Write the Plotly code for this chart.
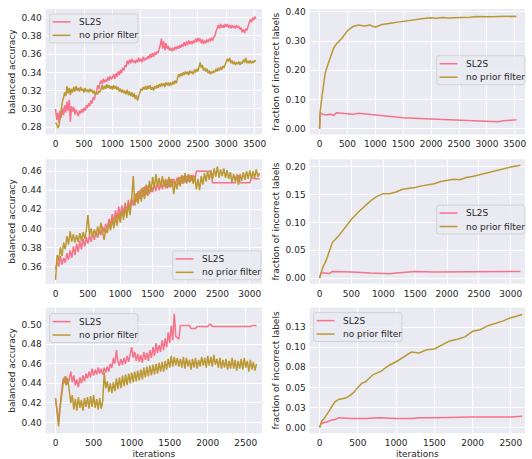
import plotly.graph_objects as go

PINK = "#f77189"
GOLD = "#bb9832"

# ---------- Row 1 ----------
tl_step = 20
tl_sl2s = [0.300, 0.288, 0.296, 0.285, 0.298, 0.290, 0.301, 0.293, 0.304, 0.296,
           0.308, 0.298, 0.310, 0.286, 0.303, 0.297, 0.302, 0.294, 0.299, 0.296,
           0.292, 0.298, 0.295, 0.300, 0.296, 0.301, 0.298, 0.304, 0.301, 0.306,
           0.303, 0.309, 0.306, 0.313, 0.310, 0.316, 0.319, 0.326, 0.322, 0.329,
           0.331, 0.327, 0.333, 0.329, 0.332, 0.330, 0.335, 0.331, 0.336, 0.333,
           0.334, 0.338, 0.333, 0.339, 0.335, 0.341, 0.337, 0.343, 0.339, 0.345,
           0.342, 0.348, 0.346, 0.353, 0.349, 0.354, 0.350, 0.355, 0.351, 0.353,
           0.350, 0.354, 0.351, 0.356, 0.352, 0.355, 0.351, 0.357, 0.353, 0.356,
           0.354, 0.358, 0.355, 0.360, 0.356, 0.361, 0.357, 0.362, 0.359, 0.363,
           0.361, 0.366, 0.370, 0.377, 0.366, 0.374, 0.364, 0.372, 0.366, 0.369,
           0.364, 0.367, 0.363, 0.367, 0.364, 0.368, 0.365, 0.369, 0.366, 0.370,
           0.367, 0.371, 0.368, 0.373, 0.369, 0.374, 0.370, 0.375, 0.371, 0.374,
           0.371, 0.375, 0.372, 0.377, 0.373, 0.378, 0.374, 0.377, 0.372, 0.376,
           0.371, 0.375, 0.372, 0.376, 0.373, 0.377, 0.374, 0.378, 0.375, 0.379,
           0.380, 0.385, 0.388, 0.392, 0.388, 0.393, 0.389, 0.392, 0.389, 0.393,
           0.390, 0.393, 0.389, 0.392, 0.388, 0.392, 0.389, 0.391, 0.388, 0.392,
           0.389, 0.391, 0.387, 0.389, 0.384, 0.387, 0.383, 0.388, 0.386, 0.392,
           0.394, 0.398, 0.395, 0.400, 0.397, 0.401, 0.399]
tl_noprior = [0.285, 0.283, 0.279, 0.282, 0.290, 0.300, 0.308, 0.312, 0.318, 0.314,
              0.325, 0.317, 0.323, 0.315, 0.322, 0.318, 0.324, 0.319, 0.325, 0.320,
              0.323, 0.319, 0.324, 0.320, 0.322, 0.318, 0.323, 0.319, 0.321, 0.318,
              0.322, 0.319, 0.321, 0.317, 0.320, 0.315, 0.318, 0.316, 0.320, 0.318,
              0.322, 0.326, 0.321, 0.325, 0.322, 0.327, 0.323, 0.326, 0.322, 0.325,
              0.321, 0.326, 0.322, 0.325, 0.321, 0.324, 0.319, 0.322, 0.318, 0.321,
              0.317, 0.320, 0.316, 0.321, 0.315, 0.319, 0.314, 0.318, 0.313, 0.317,
              0.311, 0.315, 0.309, 0.314, 0.318, 0.322, 0.320, 0.324, 0.321, 0.325,
              0.321, 0.325, 0.322, 0.326, 0.321, 0.324, 0.320, 0.325, 0.322, 0.326,
              0.323, 0.327, 0.324, 0.328, 0.325, 0.328, 0.324, 0.329, 0.326, 0.329,
              0.325, 0.329, 0.326, 0.330, 0.327, 0.331, 0.328, 0.335, 0.338, 0.335,
              0.339, 0.336, 0.340, 0.337, 0.341, 0.338, 0.341, 0.337, 0.342, 0.339,
              0.341, 0.338, 0.343, 0.340, 0.344, 0.341, 0.347, 0.351, 0.345, 0.348,
              0.342, 0.345, 0.341, 0.344, 0.339, 0.342, 0.338, 0.341, 0.339, 0.342,
              0.340, 0.344, 0.341, 0.345, 0.342, 0.346, 0.343, 0.347, 0.345, 0.349,
              0.351, 0.355, 0.352, 0.356, 0.350, 0.353, 0.349, 0.352, 0.348, 0.351,
              0.349, 0.352, 0.348, 0.351, 0.350, 0.354, 0.351, 0.356, 0.350, 0.353,
              0.350, 0.353, 0.350, 0.352, 0.351, 0.353, 0.352]

tr_x_np = [0, 10, 30, 60, 100, 150, 200, 250, 300, 400, 500, 600, 700, 800, 900, 1000,
           1100, 1200, 1300, 1400, 1500, 1600, 1700, 1800, 1900, 2000, 2100, 2200, 2300,
           2400, 2500, 2600, 2700, 2800, 2900, 3000, 3100, 3200, 3300, 3400, 3500, 3530]
tr_noprior = [0.0, 0.06, 0.09, 0.14, 0.19, 0.22, 0.25, 0.275, 0.29, 0.31, 0.335, 0.35,
              0.355, 0.352, 0.355, 0.348, 0.356, 0.358, 0.362, 0.365, 0.368, 0.370,
              0.372, 0.377, 0.378, 0.380, 0.378, 0.381, 0.379, 0.380, 0.380, 0.381,
              0.382, 0.384, 0.383, 0.384, 0.383, 0.384, 0.385, 0.386, 0.385, 0.384]
tr_x_sl = [0, 10, 50, 100, 200, 250, 300, 400, 500, 600, 700, 800, 900, 1000, 1200,
           1500, 2000, 2500, 3000, 3200, 3300, 3530]
tr_sl2s = [0.0, 0.055, 0.050, 0.047, 0.050, 0.045, 0.055, 0.053, 0.052, 0.050, 0.053,
           0.051, 0.048, 0.047, 0.043, 0.038, 0.033, 0.030, 0.026, 0.024, 0.027, 0.031]

# ---------- Row 2 ----------
ml_step = 25
ml_sl2s = [0.357, 0.366, 0.360, 0.371, 0.362, 0.369, 0.364, 0.374,
           0.367, 0.377, 0.369, 0.381, 0.372, 0.384, 0.375, 0.387,
           0.378, 0.389, 0.381, 0.391, 0.384, 0.393, 0.386, 0.395,
           0.388, 0.397, 0.390, 0.399, 0.393, 0.402, 0.396, 0.405,
           0.399, 0.410, 0.403, 0.415, 0.406, 0.419, 0.410, 0.423,
           0.412, 0.424, 0.415, 0.427, 0.417, 0.430, 0.420, 0.432,
           0.424, 0.436, 0.428, 0.439, 0.431, 0.442, 0.433, 0.444,
           0.435, 0.445, 0.436, 0.446, 0.438, 0.447, 0.439, 0.448,
           0.440, 0.449, 0.441, 0.450, 0.442, 0.451, 0.443, 0.452,
           0.444, 0.452, 0.445, 0.453, 0.446, 0.454, 0.447, 0.455,
           0.448, 0.455, 0.449, 0.456, 0.450, 0.456, 0.451, 0.460,
           0.460, 0.460, 0.460, 0.460, 0.460, 0.460, 0.460, 0.460,
           0.460, 0.448, 0.448, 0.448, 0.448, 0.448, 0.448, 0.448,
           0.448, 0.448, 0.448, 0.448, 0.448, 0.448, 0.448, 0.448,
           0.456, 0.455, 0.448, 0.448, 0.448, 0.448, 0.448, 0.448,
           0.448, 0.453, 0.453, 0.452, 0.452, 0.452, 0.452]
ml_noprior = [0.346, 0.372, 0.366, 0.380, 0.371, 0.385, 0.378, 0.392,
              0.383, 0.397, 0.386, 0.394, 0.385, 0.393, 0.386, 0.395,
              0.387, 0.396, 0.389, 0.398, 0.414, 0.393, 0.400, 0.391,
              0.399, 0.392, 0.402, 0.394, 0.406, 0.397, 0.388, 0.400,
              0.395, 0.406, 0.398, 0.410, 0.400, 0.413, 0.403, 0.416,
              0.406, 0.419, 0.409, 0.423, 0.411, 0.426, 0.414, 0.430,
              0.455, 0.424, 0.437, 0.426, 0.440, 0.428, 0.443, 0.431,
              0.446, 0.434, 0.450, 0.438, 0.454, 0.442, 0.457, 0.444,
              0.453, 0.443, 0.455, 0.444, 0.452, 0.442, 0.454, 0.443,
              0.452, 0.436, 0.449, 0.441, 0.454, 0.444, 0.456, 0.447,
              0.458, 0.447, 0.457, 0.448, 0.456, 0.447, 0.455, 0.441,
              0.452, 0.440, 0.455, 0.446, 0.458, 0.449, 0.460, 0.451,
              0.461, 0.452, 0.463, 0.454, 0.465, 0.453, 0.462, 0.455,
              0.463, 0.453, 0.461, 0.452, 0.459, 0.448, 0.457, 0.450,
              0.456, 0.446, 0.457, 0.450, 0.459, 0.451, 0.460, 0.452,
              0.461, 0.452, 0.460, 0.453, 0.462, 0.454, 0.458]

mr_x_np = [0, 50, 100, 150, 200, 300, 400, 500, 600, 700, 800, 900, 1000, 1100, 1200,
           1300, 1400, 1500, 1600, 1700, 1800, 1900, 2000, 2100, 2200, 2300, 2400, 2500,
           2600, 2700, 2800, 2900, 3000, 3150]
mr_noprior = [0.0, 0.019, 0.031, 0.049, 0.064, 0.076, 0.091, 0.106, 0.118, 0.128, 0.139,
              0.147, 0.152, 0.152, 0.155, 0.160, 0.161, 0.163, 0.166, 0.168, 0.170,
              0.174, 0.176, 0.178, 0.177, 0.181, 0.183, 0.186, 0.189, 0.192, 0.195,
              0.197, 0.200, 0.203]
mr_x_sl = [0, 20, 100, 150, 200, 300, 500, 800, 1000, 1100, 1200, 1300, 1500, 1800,
           2000, 2500, 2800, 3000, 3150]
mr_sl2s = [0.0, 0.009, 0.009, 0.008, 0.012, 0.012, 0.011, 0.009, 0.008, 0.008, 0.009,
           0.010, 0.012, 0.011, 0.011, 0.011, 0.011, 0.011, 0.012]

# ---------- Row 3 ----------
bl_step = 20
bl_sl2s = [0.424, 0.412, 0.402, 0.418, 0.432, 0.445, 0.440, 0.447, 0.439, 0.444,
           0.452, 0.441, 0.448, 0.438, 0.444, 0.436, 0.446, 0.440, 0.448, 0.442,
           0.450, 0.445, 0.452, 0.446, 0.455, 0.448, 0.454, 0.449, 0.456, 0.450,
           0.455, 0.449, 0.456, 0.451, 0.457, 0.452, 0.460, 0.456, 0.466, 0.460,
           0.474, 0.462, 0.458, 0.465, 0.459, 0.466, 0.460, 0.468, 0.462, 0.470,
           0.477, 0.466, 0.472, 0.463, 0.470, 0.462, 0.469, 0.461, 0.472, 0.464,
           0.471, 0.463, 0.474, 0.466, 0.477, 0.468, 0.481, 0.471, 0.479, 0.472,
           0.484, 0.474, 0.486, 0.477, 0.492, 0.481, 0.499, 0.484, 0.511, 0.488,
           0.486, 0.485, 0.499, 0.499, 0.499, 0.499, 0.499, 0.499, 0.499, 0.496,
           0.496, 0.496, 0.496, 0.498, 0.498, 0.498, 0.498, 0.498, 0.498, 0.498,
           0.498, 0.500, 0.500, 0.498, 0.498, 0.498, 0.498, 0.498, 0.498, 0.498,
           0.498, 0.498, 0.498, 0.498, 0.498, 0.498, 0.498, 0.498, 0.498, 0.498,
           0.498, 0.498, 0.498, 0.498, 0.498, 0.498, 0.498, 0.498, 0.498, 0.499,
           0.499, 0.499, 0.499]
bl_noprior = [0.425, 0.408, 0.396, 0.415, 0.430, 0.440, 0.447, 0.438, 0.445, 0.432,
              0.420, 0.428, 0.413, 0.424, 0.412, 0.426, 0.415, 0.423, 0.412, 0.425,
              0.416, 0.426, 0.414, 0.427, 0.416, 0.428, 0.415, 0.424, 0.413, 0.425,
              0.414, 0.422, 0.451, 0.435, 0.442, 0.431, 0.440, 0.430, 0.441, 0.432,
              0.445, 0.434, 0.446, 0.435, 0.448, 0.437, 0.449, 0.438, 0.450, 0.440,
              0.451, 0.441, 0.452, 0.442, 0.453, 0.443, 0.454, 0.444, 0.456, 0.446,
              0.457, 0.447, 0.458, 0.448, 0.459, 0.449, 0.460, 0.450, 0.461, 0.452,
              0.462, 0.452, 0.463, 0.454, 0.465, 0.456, 0.468, 0.457, 0.467, 0.458,
              0.466, 0.457, 0.465, 0.456, 0.467, 0.455, 0.466, 0.457, 0.464, 0.454,
              0.465, 0.456, 0.466, 0.455, 0.464, 0.457, 0.467, 0.458, 0.466, 0.456,
              0.468, 0.458, 0.467, 0.457, 0.469, 0.459, 0.465, 0.456, 0.466, 0.455,
              0.464, 0.456, 0.465, 0.454, 0.463, 0.455, 0.466, 0.455, 0.464, 0.453,
              0.463, 0.455, 0.465, 0.454, 0.466, 0.456, 0.463, 0.452, 0.464, 0.454,
              0.462, 0.453, 0.460]

br_x_np = [0, 30, 60, 100, 150, 200, 250, 300, 350, 400, 450, 500, 550, 600, 650, 700,
           800, 900, 1000, 1100, 1200, 1300, 1400, 1500, 1600, 1700, 1800, 1900, 2000,
           2100, 2200, 2300, 2400, 2500, 2600, 2650]
br_noprior = [0.0, 0.008, 0.011, 0.017, 0.026, 0.032, 0.035, 0.036, 0.037, 0.040,
              0.044, 0.050, 0.055, 0.057, 0.062, 0.066, 0.070, 0.077, 0.082, 0.088,
              0.094, 0.093, 0.097, 0.098, 0.103, 0.108, 0.110, 0.113, 0.120, 0.122,
              0.127, 0.130, 0.133, 0.137, 0.140, 0.141]
br_x_sl = [0, 20, 100, 150, 200, 250, 400, 600, 800, 1000, 1200, 1300, 1500, 1800,
           2000, 2500, 2650]
br_sl2s = [0.0, 0.005, 0.007, 0.009, 0.010, 0.012, 0.011, 0.011, 0.012, 0.011, 0.011,
           0.012, 0.012, 0.013, 0.013, 0.013, 0.014]

# tick definitions
tl_yticks = [0.28, 0.30, 0.32, 0.34, 0.36, 0.38, 0.40]
tr_yticks = [0.0, 0.1, 0.2, 0.3, 0.4]
ml_yticks = [0.36, 0.38, 0.40, 0.42, 0.44, 0.46]
mr_yticks = [0.0, 0.05, 0.10, 0.15, 0.20]
bl_yticks = [0.40, 0.42, 0.44, 0.46, 0.48, 0.50]
br_yticks = [0.0, 0.025, 0.05, 0.075, 0.10, 0.125]
br_yticklabels = ["0.00", "0.03", "0.05", "0.08", "0.10", "0.13"]
x_ticks_r1 = [0, 500, 1000, 1500, 2000, 2500, 3000, 3500]
x_ticks_r2 = [0, 500, 1000, 1500, 2000, 2500, 3000]
x_ticks_r3 = [0, 500, 1000, 1500, 2000, 2500]
legend_names = ["SL2S", "no prior filter"]

W, H = 532, 459
FONT = "DejaVu Sans"
TXT = "#262626"

fig = go.Figure()


def steps(vals, step):
    return [i * step for i in range(len(vals))]


LX = (46, 264)
RX = (312, 529)
R1 = (7, 133)
R2 = (158, 283)
R3 = (307, 433)


def xd(px):
    return [px[0] / W, px[1] / W]


def yd(py):
    return [(H - py[1]) / H, (H - py[0]) / H]


def fx(p):
    return p / W


def fy(p):
    return (H - p) / H


panels = [
    ("", LX, R1, [-174, 3627], [0.272, 0.4095], x_ticks_r1, tl_yticks, None, (50, 12)),
    ("2", RX, R1, [-178, 3683], [-0.0194, 0.410], x_ticks_r1, tr_yticks, None, (440, 54)),
    ("3", LX, R2, [-153, 3189], [0.3419, 0.4725], x_ticks_r2, ml_yticks, None, (174, 250)),
    ("4", RX, R2, [-156, 3223], [-0.0102, 0.2138], x_ticks_r2, mr_yticks, None, (440, 204)),
    ("5", LX, R3, [-130, 2713], [0.3891, 0.5173], x_ticks_r3, bl_yticks, None, (50, 313)),
    ("6", RX, R3, [-130, 2685], [-0.0071, 0.1495], x_ticks_r3, br_yticks, br_yticklabels, (316, 312)),
]

series = [
    (steps(tl_sl2s, tl_step), tl_sl2s, steps(tl_noprior, tl_step), tl_noprior),
    (tr_x_sl, tr_sl2s, tr_x_np, tr_noprior),
    (steps(ml_sl2s, ml_step), ml_sl2s, steps(ml_noprior, ml_step), ml_noprior),
    (mr_x_sl, mr_sl2s, mr_x_np, mr_noprior),
    (steps(bl_sl2s, bl_step), bl_sl2s, steps(bl_noprior, bl_step), bl_noprior),
    (br_x_sl, br_sl2s, br_x_np, br_noprior),
]

layout = dict(
    width=W, height=H, margin=dict(l=0, r=0, t=0, b=0),
    paper_bgcolor="white", plot_bgcolor="#eaeaf2",
    font=dict(family=FONT, size=9, color=TXT),
    showlegend=False,
)
shapes = []
annotations = []


def rounded_rect(x0, y0, x1, y1, r):
    X = fx
    Y = fy
    return (f"M {X(x0 + r)},{Y(y0)} L {X(x1 - r)},{Y(y0)} Q {X(x1)},{Y(y0)} {X(x1)},{Y(y0 + r)} "
            f"L {X(x1)},{Y(y1 - r)} Q {X(x1)},{Y(y1)} {X(x1 - r)},{Y(y1)} "
            f"L {X(x0 + r)},{Y(y1)} Q {X(x0)},{Y(y1)} {X(x0)},{Y(y1 - r)} "
            f"L {X(x0)},{Y(y0 + r)} Q {X(x0)},{Y(y0)} {X(x0 + r)},{Y(y0)} Z")


for (suf, px, py, xr, yr, xt, yt, ytl, lpos), (xs, ys, xn, yn) in zip(panels, series):
    xa = "x" + suf
    ya = "y" + suf
    fig.add_trace(go.Scatter(x=xs, y=ys, mode="lines", name=legend_names[0],
                             line=dict(color=PINK, width=1.5), xaxis=xa, yaxis=ya))
    fig.add_trace(go.Scatter(x=xn, y=yn, mode="lines", name=legend_names[1],
                             line=dict(color=GOLD, width=1.5), xaxis=xa, yaxis=ya))
    left = px == LX
    bottom = py == R3
    layout["xaxis" + suf] = dict(
        domain=xd(px), anchor=ya, range=xr, tickvals=xt,
        showgrid=True, gridcolor="white", gridwidth=1, zeroline=False,
        showline=False, ticks="", ticklabelstandoff=3,
        tickfont=dict(family=FONT, size=9, color=TXT),
        title=dict(text="iterations" if bottom else "", font=dict(size=9, color=TXT), standoff=3),
    )
    yax = dict(
        domain=yd(py), anchor=xa, range=yr, tickvals=yt,
        showgrid=True, gridcolor="white", gridwidth=1, zeroline=False,
        showline=False, ticks="", ticklabelstandoff=3,
        tickfont=dict(family=FONT, size=9, color=TXT),
        title=dict(text="balanced accuracy" if left else "fraction of incorrect labels",
                   font=dict(size=9, color=TXT), standoff=4),
    )
    if ytl is not None:
        yax["ticktext"] = ytl
    else:
        yax["tickformat"] = ".2f"
    layout["yaxis" + suf] = yax

    # compact matplotlib-style legend drawn with shapes + annotations
    lx, ly = lpos
    bw, bh = 89, 29
    shapes.append(dict(type="path", xref="paper", yref="paper", layer="above",
                       path=rounded_rect(lx, ly, lx + bw, ly + bh, 2.5),
                       fillcolor="rgba(234,234,242,0.85)",
                       line=dict(color="rgba(204,204,204,0.8)", width=1)))
    for k, (name, col) in enumerate(zip(legend_names, [PINK, GOLD])):
        yy = ly + 8 + k * 13.5
        shapes.append(dict(type="line", xref="paper", yref="paper", layer="above",
                           x0=fx(lx + 3), x1=fx(lx + 21), y0=fy(yy), y1=fy(yy),
                           line=dict(color=col, width=1.5)))
        annotations.append(dict(xref="paper", yref="paper", x=fx(lx + 28), y=fy(yy),
                                xanchor="left", yanchor="middle", showarrow=False,
                                text=name, font=dict(family=FONT, size=9, color=TXT)))

layout["shapes"] = shapes
layout["annotations"] = annotations
fig.update_layout(**layout)
fig.write_html("out.html", config={"displayModeBar": False},
               post_script="document.body.style.margin='0px';")
